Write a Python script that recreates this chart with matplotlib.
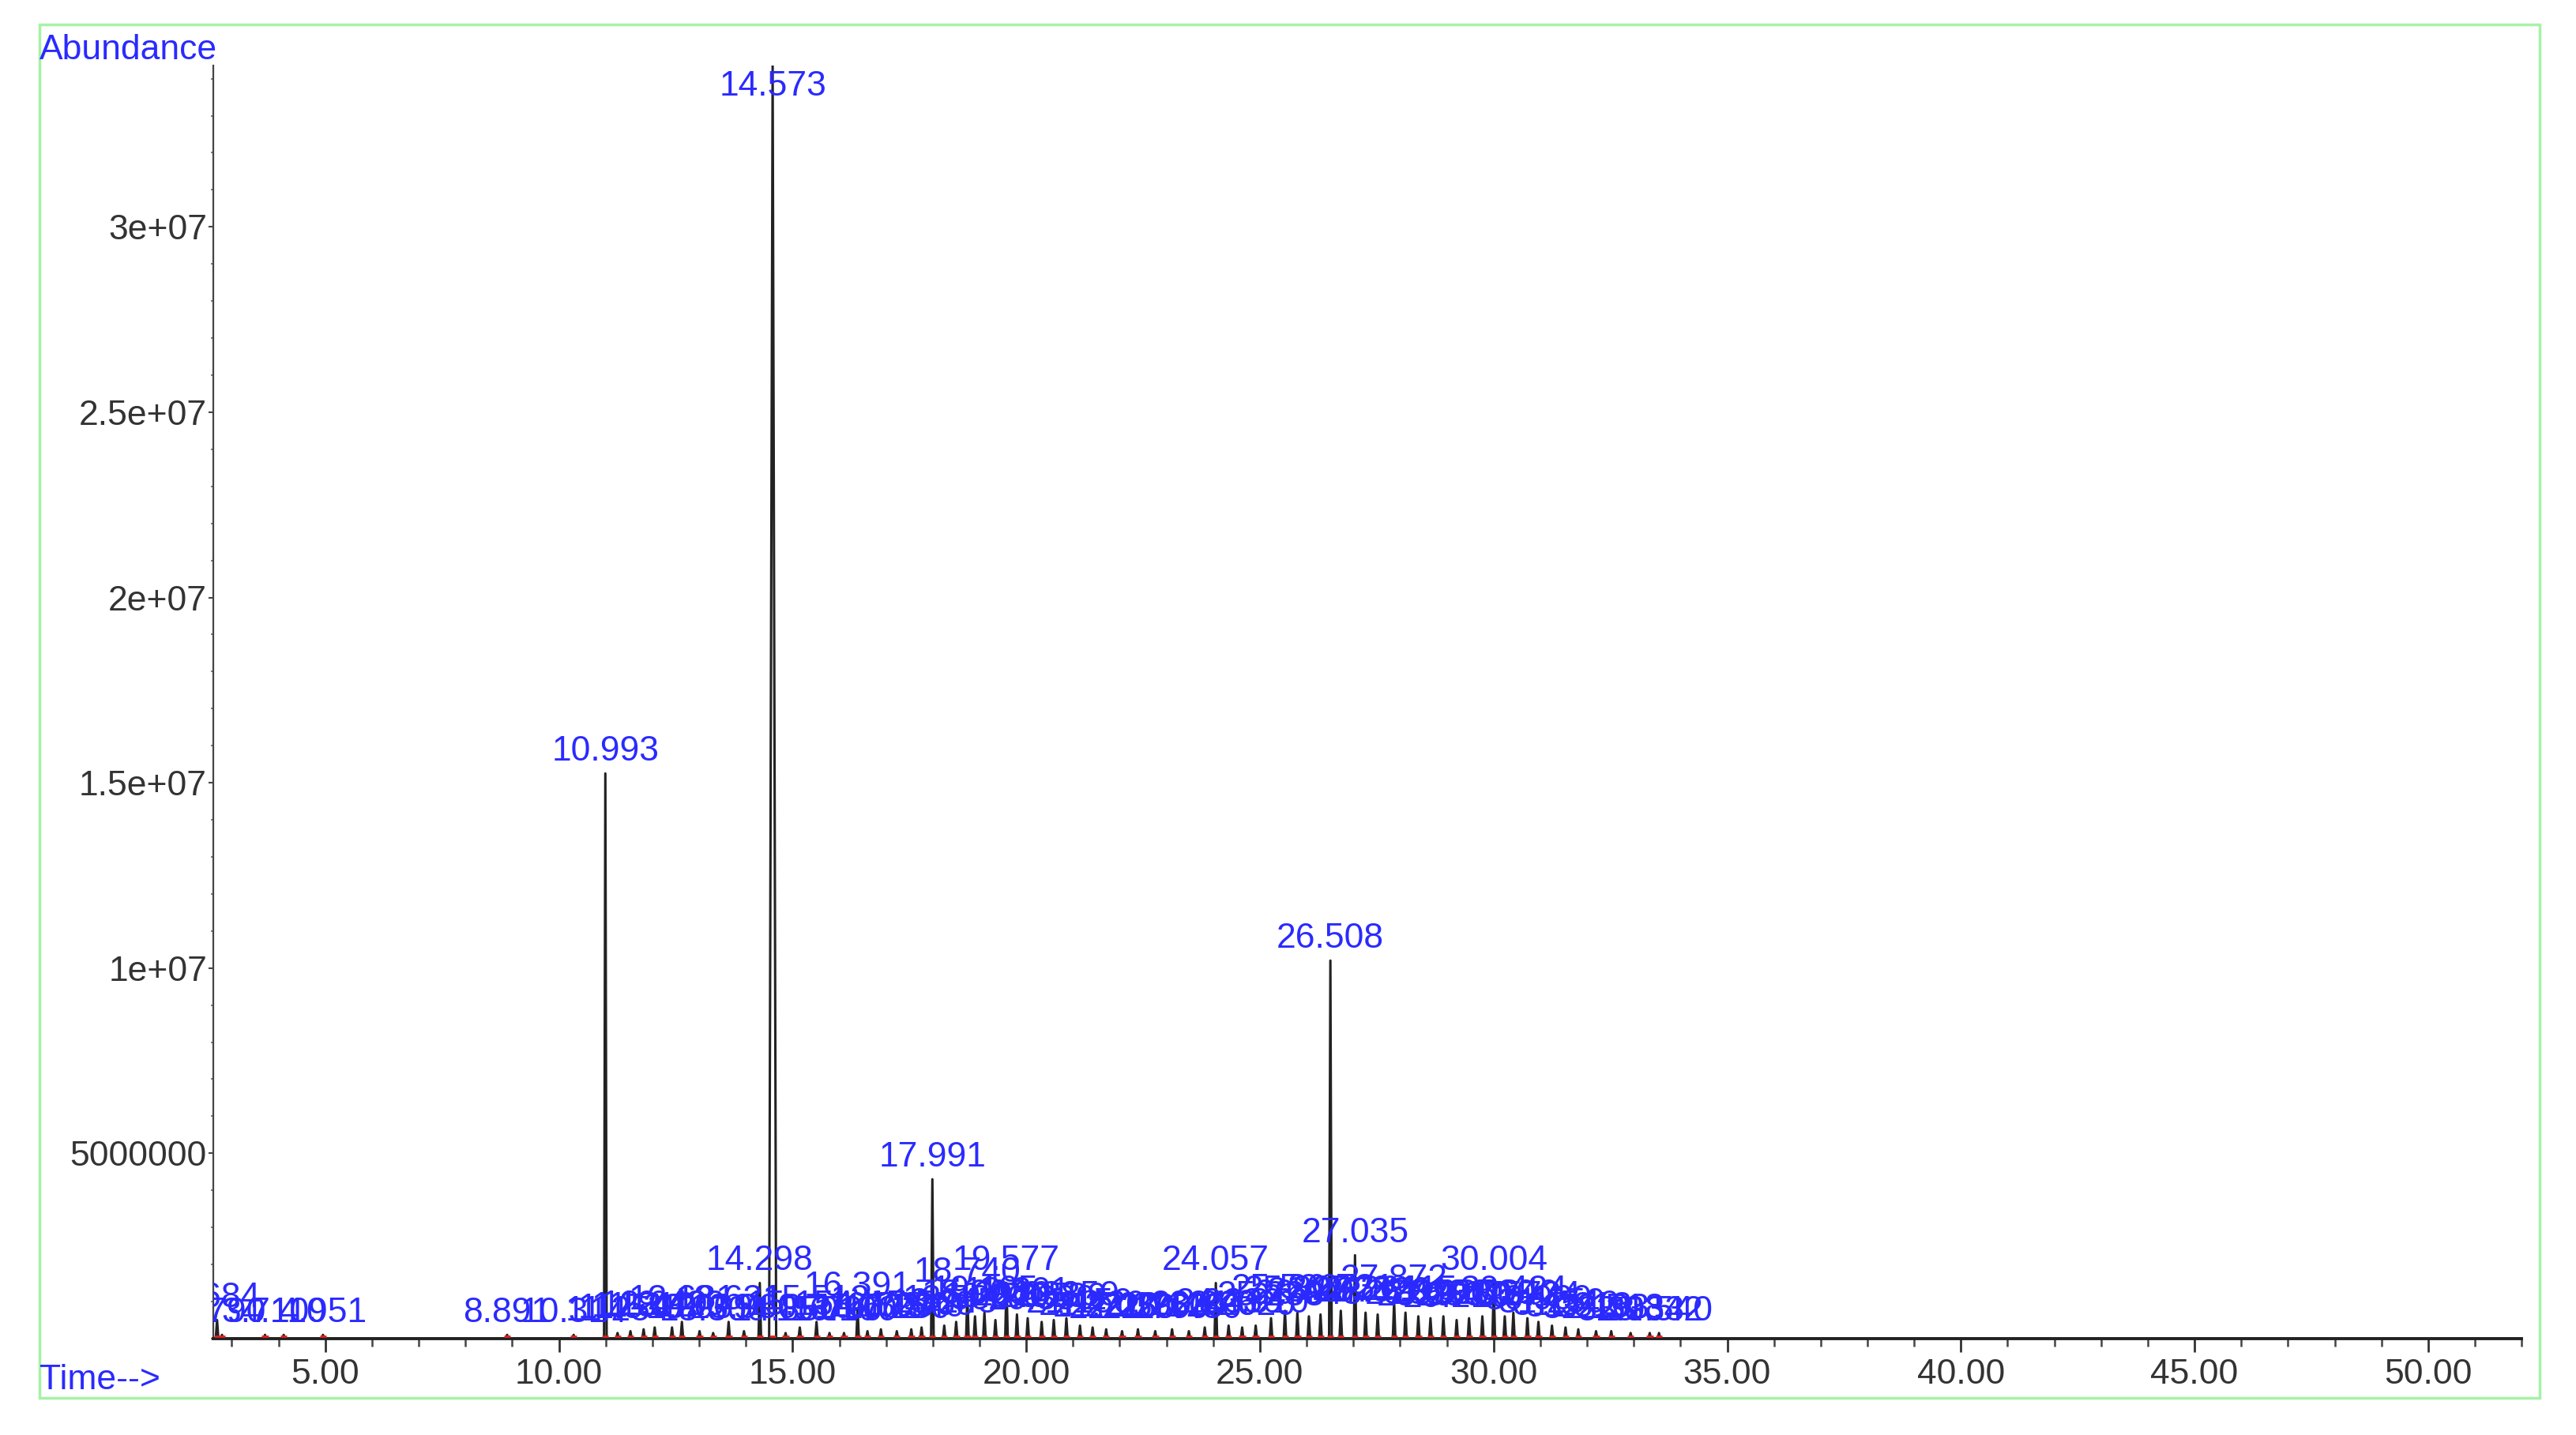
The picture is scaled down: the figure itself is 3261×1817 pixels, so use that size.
import matplotlib
matplotlib.use("Agg")
import matplotlib.pyplot as plt
from matplotlib import font_manager
from matplotlib.patches import Rectangle
from matplotlib.ticker import MultipleLocator, FixedLocator, FixedFormatter

# ---------------- data ----------------
retention_times = [2.684, 2.790, 3.710, 4.110, 4.951, 8.891, 10.314, 10.993, 11.254, 11.530,
                   11.812, 12.049, 12.420, 12.631, 13.009, 13.300, 13.631, 13.960, 14.298, 14.573,
                   14.850, 15.154, 15.512, 15.790, 16.100, 16.391, 16.602, 16.890, 17.230, 17.540,
                   17.760, 17.991, 18.245, 18.500, 18.740, 18.903, 19.105, 19.340, 19.577, 19.801,
                   20.031, 20.330, 20.589, 20.859, 21.150, 21.420, 21.710, 22.050, 22.390, 22.760,
                   23.120, 23.480, 23.820, 24.057, 24.330, 24.620, 24.910, 25.238, 25.536, 25.802,
                   26.048, 26.297, 26.508, 26.731, 27.035, 27.261, 27.520, 27.872, 28.115, 28.390,
                   28.650, 28.926, 29.210, 29.475, 29.760, 30.004, 30.240, 30.424, 30.724, 30.960,
                   31.250, 31.540, 31.813, 32.193, 32.518, 32.933, 33.342, 33.540]
abundance_e6 = [0.50, 0.10, 0.10, 0.10, 0.10, 0.10, 0.10, 15.25, 0.15, 0.20,
                0.25, 0.30, 0.30, 0.45, 0.20, 0.15, 0.45, 0.20, 1.50, 34.35,
                0.15, 0.30, 0.45, 0.15, 0.15, 0.80, 0.20, 0.25, 0.20, 0.25,
                0.30, 4.30, 0.35, 0.45, 1.20, 0.60, 0.70, 0.50, 1.50, 0.65,
                0.55, 0.45, 0.50, 0.55, 0.35, 0.30, 0.25, 0.20, 0.25, 0.20,
                0.25, 0.20, 0.30, 1.50, 0.35, 0.30, 0.35, 0.55, 0.75, 0.70,
                0.60, 0.65, 10.20, 0.75, 2.25, 0.70, 0.65, 1.00, 0.70, 0.60,
                0.55, 0.60, 0.50, 0.55, 0.60, 1.50, 0.60, 0.70, 0.55, 0.45,
                0.35, 0.30, 0.25, 0.20, 0.20, 0.15, 0.15, 0.15]
ytick_values = [5e6, 1e7, 1.5e7, 2e7, 2.5e7, 3e7]
ytick_labels = ["5000000", "1e+07", "1.5e+07", "2e+07", "2.5e+07", "3e+07"]
xtick_values = [5, 10, 15, 20, 25, 30, 35, 40, 45, 50]
xtick_labels = ["5.00", "10.00", "15.00", "20.00", "25.00", "30.00", "35.00", "40.00", "45.00", "50.00"]
x_range = (2.609, 52.0)
y_top = 3.435e7

# ---------------- style ----------------
_names = {f.name for f in font_manager.fontManager.ttflist}
if 'Liberation Sans Narrow' in _names:
    plt.rcParams['font.family'] = ['Liberation Sans Narrow', 'Liberation Sans', 'DejaVu Sans']
    FS = 36
else:
    plt.rcParams['font.family'] = ['Liberation Sans', 'DejaVu Sans']
    FS = 32
BLUE = '#2a2aff'
GRAY = '#333333'

fig = plt.figure(figsize=(32.61, 18.17), dpi=100)
fig.patch.set_facecolor('white')
ax = fig.add_axes([0.0829, 0.0672, 0.8960, 0.8870])
ax.set_xlim(*x_range)
ax.set_ylim(0, y_top)

# chromatogram trace: narrow triangular peaks
order = sorted(range(len(retention_times)), key=lambda i: retention_times[i])
xs, ys = [x_range[0]], [0.0]
for i in order:
    rt = retention_times[i]
    h = abundance_e6[i] * 1e6
    hw = 0.075 if h > 2e7 else 0.028
    xs += [rt - hw, rt, rt + hw]
    ys += [0.0, h, 0.0]
xs.append(x_range[1])
ys.append(0.0)
ax.plot(xs, ys, color='#222222', lw=2.2, zorder=3, clip_on=True)

# red integration baselines
for rt in retention_times:
    ax.plot([rt - 0.07, rt + 0.07], [y_top * 0.002, y_top * 0.002], color='#e02020',
            lw=2.0, zorder=4, solid_capstyle='butt')

# peak labels
for rt, a in zip(retention_times, abundance_e6):
    h = a * 1e6
    ly = min(h + 0.15e6, y_top - 1.0e6)
    ax.text(rt, ly, f"{rt:.3f}", color=BLUE, fontsize=FS, ha='center', va='bottom',
            zorder=5, clip_on=True)

# axes styling
for s in ['top', 'right']:
    ax.spines[s].set_visible(False)
ax.spines['left'].set_color('#444444')
ax.spines['left'].set_linewidth(1.6)
ax.spines['bottom'].set_color('#222222')
ax.spines['bottom'].set_linewidth(2.8)

ax.xaxis.set_major_locator(FixedLocator(xtick_values))
ax.xaxis.set_major_formatter(FixedFormatter(xtick_labels))
ax.xaxis.set_minor_locator(MultipleLocator(1.0))
ax.yaxis.set_major_locator(FixedLocator(ytick_values))
ax.yaxis.set_major_formatter(FixedFormatter(ytick_labels))
ax.yaxis.set_minor_locator(MultipleLocator(1e6))

ax.tick_params(axis='x', which='major', direction='out', length=12, width=2.0,
               color='#333333', labelsize=FS, labelcolor=GRAY, pad=6)
ax.tick_params(axis='x', which='minor', direction='out', length=7, width=1.8, color='#444444')
ax.tick_params(axis='y', which='major', direction='out', length=4, width=1.5,
               color='#444444', labelsize=FS, labelcolor=GRAY, pad=2)
ax.tick_params(axis='y', which='minor', direction='out', length=2.5, width=1.2, color='#666666')
ax.set_facecolor('white')

# header / axis captions
fig.text(0.0153, 0.9588, "Abundance", color=BLUE, fontsize=FS, ha='left', va='baseline')
fig.text(0.0153, 0.0317, "Time-->", color=BLUE, fontsize=FS, ha='left', va='baseline')

# light green frame
fig.add_artist(Rectangle((0.0153, 0.026), 0.9707, 0.9568, transform=fig.transFigure,
                         fill=False, edgecolor='#a6f2a6', lw=2.5))

fig.savefig("out.png", dpi=100, facecolor='white')
